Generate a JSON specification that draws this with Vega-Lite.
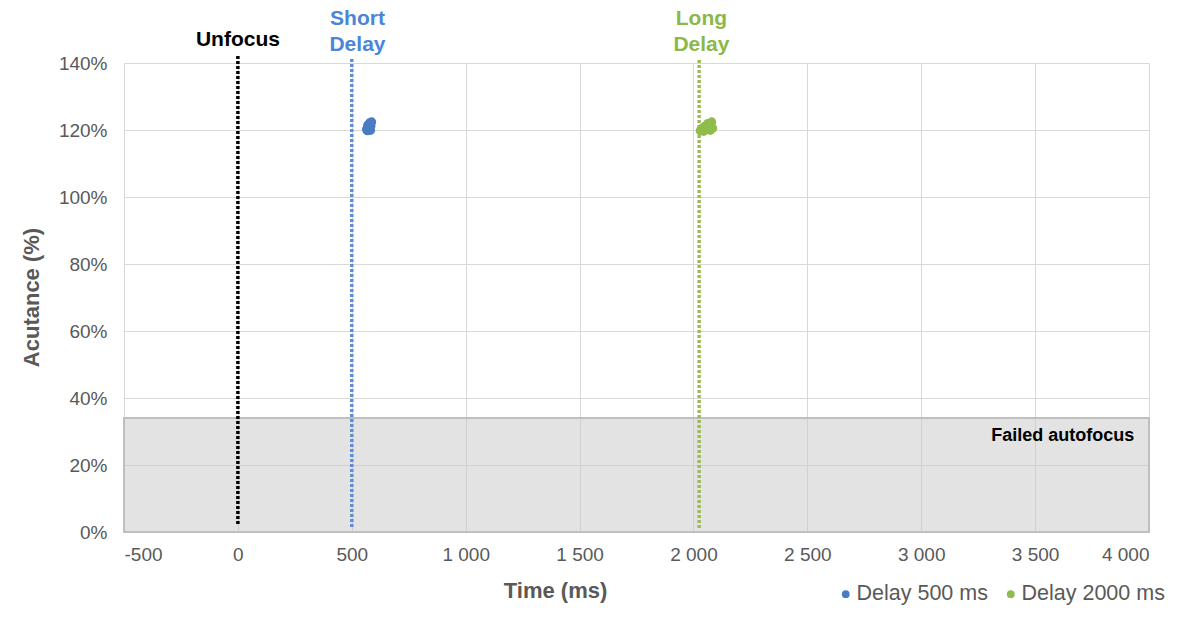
{
  "$schema": "https://vega.github.io/schema/vega-lite/v6.json",
  "width": 1025,
  "height": 469,
  "autosize": {"type": "none"},
  "padding": {"left": 124, "top": 63, "right": 51, "bottom": 101},
  "background": "white",
  "datasets": {
    "box": [{"t": -500, "t2": 4000, "v": 0, "v2": 34, "label": "Failed autofocus", "lt": 3935, "lv": 28.7}],
    "rules": [
      {"name": "Unfocus", "t": 0, "v": 2.4, "v2": 142.4},
      {"name": "Short Delay", "t": 500, "v": 1.5, "v2": 141.3},
      {"name": "Long Delay", "t": 2025, "v": 1.2, "v2": 141.3}
    ],
    "labels": [
      {"name": "Unfocus", "text": ["Unfocus"], "t": 0, "v": 146.8},
      {"name": "Short Delay", "text": ["Short", "Delay"], "t": 525, "v": 153},
      {"name": "Long Delay", "text": ["Long", "Delay"], "t": 2035, "v": 153}
    ],
    "points": [
      {"series": "Delay 500 ms", "t": 565, "v": 120.2},
      {"series": "Delay 500 ms", "t": 570, "v": 121.4},
      {"series": "Delay 500 ms", "t": 575, "v": 120.6},
      {"series": "Delay 500 ms", "t": 578, "v": 122.1},
      {"series": "Delay 500 ms", "t": 584, "v": 121.2},
      {"series": "Delay 500 ms", "t": 568, "v": 119.8},
      {"series": "Delay 500 ms", "t": 582, "v": 119.9},
      {"series": "Delay 500 ms", "t": 587, "v": 122.4},
      {"series": "Delay 500 ms", "t": 576, "v": 120.9},
      {"series": "Delay 2000 ms", "t": 2030, "v": 119.8},
      {"series": "Delay 2000 ms", "t": 2040, "v": 120.6},
      {"series": "Delay 2000 ms", "t": 2050, "v": 121.1},
      {"series": "Delay 2000 ms", "t": 2058, "v": 120.2},
      {"series": "Delay 2000 ms", "t": 2068, "v": 121.5},
      {"series": "Delay 2000 ms", "t": 2080, "v": 122.4},
      {"series": "Delay 2000 ms", "t": 2084, "v": 120.5},
      {"series": "Delay 2000 ms", "t": 2045, "v": 119.6},
      {"series": "Delay 2000 ms", "t": 2074, "v": 119.9},
      {"series": "Delay 2000 ms", "t": 2062, "v": 121.9}
    ]
  },
  "config": {
    "view": {"stroke": null},
    "font": "Liberation Sans",
    "axis": {
      "domain": false,
      "ticks": false,
      "tickSize": 0,
      "grid": true,
      "gridColor": "#d9d9d9",
      "gridWidth": 1,
      "labelFont": "Liberation Sans",
      "labelFontSize": 19,
      "labelColor": "#595959",
      "titleFont": "Liberation Sans",
      "titleFontSize": 22,
      "titleFontWeight": "bold",
      "titleColor": "#595959"
    },
    "axisX": {
      "labelPadding": 13,
      "titleX": 431,
      "titleY": 58,
      "titleBaseline": "middle",
      "titleAlign": "center"
    },
    "axisY": {
      "labelPadding": 17,
      "titleX": -93,
      "titleY": 234,
      "titleBaseline": "middle",
      "titleAlign": "center"
    }
  },
  "layer": [
    {
      "data": {"name": "box"},
      "mark": {"type": "rect", "fill": "#c8c8c8", "fillOpacity": 0.5, "stroke": "#bfbfbf", "strokeWidth": 2},
      "encoding": {
        "x": {"field": "t", "type": "quantitative", "title": "Time (ms)",
              "scale": {"domain": [-500, 4000], "nice": false, "zero": false},
              "axis": {"values": [-500, 0, 500, 1000, 1500, 2000, 2500, 3000, 3500, 4000],
                       "labelExpr": "(datum.value < 0 ? '-' : '') + replace(format(abs(datum.value), ','), ',', ' ')"}},
        "x2": {"field": "t2"},
        "y": {"field": "v", "type": "quantitative", "title": "Acutance (%)",
              "scale": {"domain": [0, 140], "nice": false},
              "axis": {"values": [0, 20, 40, 60, 80, 100, 120, 140],
                       "labelExpr": "datum.value + '%'"}},
        "y2": {"field": "v2"}
      }
    },
    {
      "data": {"name": "box"},
      "mark": {"type": "text", "align": "right", "baseline": "middle", "fontSize": 18, "fontWeight": "bold", "color": "#000000"},
      "encoding": {
        "x": {"field": "lt", "type": "quantitative", "title": "Time (ms)"},
        "y": {"field": "lv", "type": "quantitative", "title": "Acutance (%)"},
        "text": {"field": "label"}
      }
    },
    {
      "data": {"name": "rules"},
      "transform": [{"filter": "datum.name == 'Unfocus'"}],
      "mark": {"type": "rule", "clip": false, "color": "#000000", "strokeWidth": 3.5, "strokeDash": [3, 2]},
      "encoding": {
        "x": {"field": "t", "type": "quantitative", "title": "Time (ms)"},
        "y": {"field": "v", "type": "quantitative", "title": "Acutance (%)"},
        "y2": {"field": "v2"}
      }
    },
    {
      "data": {"name": "rules"},
      "transform": [{"filter": "datum.name == 'Short Delay'"}],
      "mark": {"type": "rule", "clip": false, "color": "#5a8fdc", "strokeWidth": 3.5, "strokeDash": [3, 2]},
      "encoding": {
        "x": {"field": "t", "type": "quantitative", "title": "Time (ms)"},
        "y": {"field": "v", "type": "quantitative", "title": "Acutance (%)"},
        "y2": {"field": "v2"}
      }
    },
    {
      "data": {"name": "rules"},
      "transform": [{"filter": "datum.name == 'Long Delay'"}],
      "mark": {"type": "rule", "clip": false, "color": "#9bbb59", "strokeWidth": 3.5, "strokeDash": [3, 2]},
      "encoding": {
        "x": {"field": "t", "type": "quantitative", "title": "Time (ms)"},
        "y": {"field": "v", "type": "quantitative", "title": "Acutance (%)"},
        "y2": {"field": "v2"}
      }
    },
    {
      "data": {"name": "labels"},
      "transform": [{"filter": "datum.name == 'Unfocus'"}],
      "mark": {"type": "text", "align": "center", "baseline": "middle", "fontSize": 21, "fontWeight": "bold", "color": "#000000", "lineHeight": 26},
      "encoding": {
        "x": {"field": "t", "type": "quantitative", "title": "Time (ms)"},
        "y": {"field": "v", "type": "quantitative", "title": "Acutance (%)"},
        "text": {"field": "text"}
      }
    },
    {
      "data": {"name": "labels"},
      "transform": [{"filter": "datum.name == 'Short Delay'"}],
      "mark": {"type": "text", "align": "center", "baseline": "middle", "fontSize": 21, "fontWeight": "bold", "color": "#4a86d8", "lineHeight": 26},
      "encoding": {
        "x": {"field": "t", "type": "quantitative", "title": "Time (ms)"},
        "y": {"field": "v", "type": "quantitative", "title": "Acutance (%)"},
        "text": {"field": "text"}
      }
    },
    {
      "data": {"name": "labels"},
      "transform": [{"filter": "datum.name == 'Long Delay'"}],
      "mark": {"type": "text", "align": "center", "baseline": "middle", "fontSize": 21, "fontWeight": "bold", "color": "#8cb84a", "lineHeight": 26},
      "encoding": {
        "x": {"field": "t", "type": "quantitative", "title": "Time (ms)"},
        "y": {"field": "v", "type": "quantitative", "title": "Acutance (%)"},
        "text": {"field": "text"}
      }
    },
    {
      "data": {"name": "points"},
      "mark": {"type": "point", "filled": true, "opacity": 1, "size": 85, "shape": "circle"},
      "encoding": {
        "x": {"field": "t", "type": "quantitative", "title": "Time (ms)"},
        "y": {"field": "v", "type": "quantitative", "title": "Acutance (%)"},
        "color": {
          "field": "series", "type": "nominal",
          "scale": {"domain": ["Delay 500 ms", "Delay 2000 ms"], "range": ["#4a7cc4", "#8fbc4a"]},
          "legend": {
            "title": null, "orient": "none", "direction": "horizontal",
            "legendX": 711, "legendY": 520,
            "symbolType": "circle", "symbolSize": 60, "symbolStrokeWidth": 0,
            "labelFontSize": 21.5, "labelColor": "#595959", "labelFont": "Liberation Sans",
            "labelOffset": 0, "columnPadding": 12
          }
        }
      }
    }
  ]
}
